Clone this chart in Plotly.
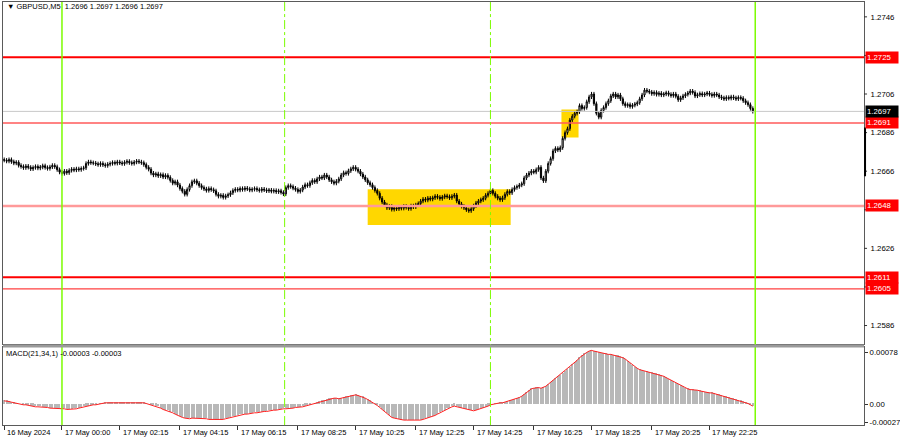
import plotly.graph_objects as go

# ---------------- data ----------------
close = [
    1.26717, 1.26712, 1.26720, 1.26709, 1.26702, 1.26706,
    1.26690, 1.26684, 1.26678, 1.26686, 1.26680, 1.26672, 1.26679, 1.26684, 1.26676, 1.26681, 1.26688, 1.26679, 1.26674, 1.26682, 1.26690, 1.26683,
    1.26668, 1.26655, 1.26648, 1.26660, 1.26652, 1.26664, 1.26670,
    1.26666, 1.26672, 1.26668, 1.26674, 1.26677,
    1.26700, 1.26708,
    1.26704, 1.26702, 1.26698, 1.26694, 1.26700, 1.26693, 1.26689, 1.26696, 1.26700,
    1.26705, 1.26701, 1.26708, 1.26703, 1.26699, 1.26706, 1.26711, 1.26704, 1.26700, 1.26707, 1.26712, 1.26708, 1.26704,
    1.26694, 1.26680, 1.26670,
    1.26650, 1.26640, 1.26646, 1.26636, 1.26642, 1.26630, 1.26638, 1.26628,
    1.26612, 1.26598, 1.26605, 1.26588, 1.26570, 1.26556, 1.26540,
    1.26565, 1.26585, 1.26605, 1.26610,
    1.26598, 1.26585, 1.26575, 1.26568, 1.26560, 1.26570, 1.26564, 1.26558,
    1.26540, 1.26530, 1.26535, 1.26524, 1.26532, 1.26538,
    1.26548, 1.26560, 1.26566, 1.26562, 1.26570, 1.26565, 1.26572,
    1.26568, 1.26562, 1.26566, 1.26570, 1.26564, 1.26560, 1.26567, 1.26563, 1.26558, 1.26562, 1.26556, 1.26560, 1.26553, 1.26558, 1.26550, 1.26542,
    1.26575, 1.26585, 1.26580,
    1.26572, 1.26565, 1.26555, 1.26562,
    1.26578, 1.26590, 1.26585, 1.26600, 1.26612, 1.26605, 1.26620, 1.26630, 1.26625, 1.26640,
    1.26630, 1.26615, 1.26605, 1.26598, 1.26608, 1.26620,
    1.26640, 1.26652, 1.26648, 1.26662, 1.26672, 1.26680,
    1.26670, 1.26660, 1.26645, 1.26630, 1.26615, 1.26600, 1.26590, 1.26575, 1.26560, 1.26545,
    1.26520, 1.26500, 1.26485, 1.26470, 1.26478, 1.26462,
    1.26470, 1.26465, 1.26474, 1.26468, 1.26478, 1.26472, 1.26466, 1.26480, 1.26475, 1.26485, 1.26492,
    1.26505, 1.26515, 1.26510, 1.26520,
    1.26515, 1.26522, 1.26530, 1.26525, 1.26518, 1.26526, 1.26532, 1.26528, 1.26522, 1.26530, 1.26536,
    1.26505, 1.26490, 1.26478, 1.26470, 1.26460, 1.26455, 1.26465,
    1.26480, 1.26495, 1.26505, 1.26512, 1.26520, 1.26535, 1.26545, 1.26560,
    1.26545, 1.26530, 1.26520, 1.26512, 1.26522,
    1.26540, 1.26555, 1.26548,
    1.26565, 1.26575, 1.26580, 1.26588, 1.26595,
    1.26625, 1.26640, 1.26650, 1.26660, 1.26655, 1.26668, 1.26680,
    1.26625, 1.26610,
    1.26660, 1.26700, 1.26725,
    1.26765, 1.26778, 1.26770, 1.26782,
    1.26830, 1.26860, 1.26880,
    1.26925, 1.26945, 1.26960, 1.26968,
    1.27000, 1.26985,
    1.26990, 1.27020, 1.27045, 1.27060,
    1.27010, 1.26960, 1.26940,
    1.26975, 1.26990, 1.27010, 1.27025,
    1.27050, 1.27060, 1.27045, 1.27055, 1.27035,
    1.27010, 1.27000, 1.27005, 1.26995, 1.27002, 1.27008, 1.27015,
    1.27035, 1.27055, 1.27080, 1.27075,
    1.27070, 1.27062, 1.27068, 1.27058, 1.27064, 1.27055, 1.27060, 1.27066, 1.27058, 1.27052, 1.27060, 1.27048, 1.27030,
    1.27040, 1.27050, 1.27058, 1.27065, 1.27075, 1.27068,
    1.27050, 1.27056, 1.27062, 1.27055, 1.27060, 1.27065, 1.27058, 1.27052, 1.27060, 1.27055,
    1.27045, 1.27040, 1.27035, 1.27042, 1.27038, 1.27045, 1.27040, 1.27035, 1.27042, 1.27038,
    1.27025, 1.27015, 1.27005, 1.26985, 1.26970,
]
first_open = 1.26720
wick = 0.00011

# MACD(21,34,1) main values, in units of 0.00001
macd_pts = [
    5, 5, 4, 3, 2, 1, 0, 0, -1, -1, -2,
    -3, -3, -4, -4, -4, -5, -5, -5, -6, -6, -6, -7, -7, -7,
    -7, -8, -8, -8, -7, -7, -6,
    -5, -4, -3, -3, -2, -1, -1, 0,
    1, 1, 2, 2, 2, 2, 3, 3, 3, 3, 3, 3, 3, 3, 3, 3, 2, 2, 2,
    1, 0, -1, -2, -3, -4,
    -6, -8, -9, -10, -12, -13, -15, -17, -19, -20, -21,
    -22, -22, -21, -21, -21, -22, -22,
    -22, -22, -23, -23, -23, -24, -24, -24, -23,
    -22, -21, -20, -19, -18, -17, -16,
    -16, -15, -15, -14, -14, -13, -13, -12, -12, -11, -11, -10, -10, -9, -9, -8, -8, -7,
    -7, -7, -6, -6, -5, -5, -5,
    -4, -3, -2, -1, 0, 1, 2, 4,
    5, 6, 7, 8, 8, 9, 9,
    8, 9, 10, 11, 12, 13, 13,
    14,
    13, 12, 11, 9, 7, 5, 3, 1, -2, -5, -8, -11, -14, -17, -20,
    -21, -22, -23, -24, -24, -24, -24, -25, -25, -24, -24, -24,
    -23, -22, -21, -20, -19, -17, -15, -13, -11, -9, -7, -6,
    -4, -3, -4, -5,
    -6, -7, -8, -9, -10, -10,
    -9, -8, -7, -6, -5, -3, -1,
    0, 1, 1, 2, 2, 3, 4, 5, 6, 7, 8,
    10, 12, 15, 18, 21, 23,
    24, 25, 25, 24, 25, 27,
    30, 33, 36, 39, 42, 44, 47, 50,
    53, 56, 60, 63, 66, 70, 73, 76, 78, 80,
    81,
    80, 79, 78, 77, 76, 76, 75, 75, 74, 74, 73, 72,
    70, 68, 65, 62, 59, 56, 54, 52,
    51, 50, 49, 48, 48, 47, 46, 45, 44,
    42, 40, 38, 36, 34, 32, 30, 28, 26, 24,
    23, 22, 22, 21, 21, 20, 19, 18, 18, 17, 17,
    16, 15, 14, 13, 12, 11, 10, 9, 8, 7, 6, 5,
    4, 3, 1, -1, -3,
]

tick_idx = [0, 24, 48, 73, 97, 122, 146, 171, 195, 220, 244, 269, 293]
tick_text = ["16 May 2024", "17 May 00:00", "17 May 02:15", "17 May 04:15", "17 May 06:15",
             "17 May 08:25", "17 May 10:25", "17 May 12:25", "17 May 14:25", "17 May 16:25",
             "17 May 18:25", "17 May 20:25", "17 May 22:25"]

price_ticks = [1.2586, 1.2626, 1.2666, 1.2686, 1.2706, 1.2746]
price_tick_marks = [1.2586, 1.2606, 1.2626, 1.2646, 1.2666, 1.2686, 1.2706, 1.2726, 1.2746]
levels = [1.2725, 1.2691, 1.2648, 1.2611, 1.2605]
level_colors = ["#ff0000", "#ff5a5a", "#ff9a9a", "#ff0000", "#ff4040"]
level_widths = [2, 1.5, 2.5, 2, 1.2]
current_price = 1.2697

day_lines = [24, 312]          # day separators (bar index)
session_lines = [116.5, 202]   # dash-dot session lines
boxes = [(151.0, 210.4, 1.26381, 1.26567), (231.5, 238.6, 1.26835, 1.26980)]

macd_ticks = [-0.00027, 0.0, 0.00078]
macd_tick_text = ["-0.00027", "0.00", "0.00078"]

# ---------------- build ----------------
n = len(close)
idx = list(range(n))
opens = [first_open] + close[:-1]
highs = [max(o, c) + wick for o, c in zip(opens, close)]
lows = [min(o, c) - wick for o, c in zip(opens, close)]
macd = [v * 1e-5 for v in macd_pts]

FONT = "Liberation Sans"
FS = 7.8
W, H = 900, 441
xd = [3 / W, 865 / W]
main_dom = [1 - 346 / H, 1 - 2 / H]
macd_dom = [1 - 427 / H, 1 - 349 / H]
xrange = [-0.5, 357.2]

fig = go.Figure()
fig.add_trace(go.Candlestick(
    x=idx, open=opens, high=highs, low=lows, close=close,
    increasing=dict(line=dict(color="#000000", width=1), fillcolor="#ffffff"),
    decreasing=dict(line=dict(color="#000000", width=1), fillcolor="#000000"),
    whiskerwidth=0, xaxis="x", yaxis="y", showlegend=False, hoverinfo="skip"))
fig.add_trace(go.Bar(x=idx, y=macd, marker=dict(color="#b8b8b8", line=dict(width=0)),
                     width=0.5, xaxis="x2", yaxis="y2", showlegend=False, hoverinfo="skip"))
fig.add_trace(go.Scatter(x=idx, y=macd, mode="lines", line=dict(color="#ff2020", width=1),
                         xaxis="x2", yaxis="y2", showlegend=False, hoverinfo="skip"))

shapes = []
for (x0, x1, y0, y1) in boxes:
    shapes.append(dict(type="rect", xref="x", yref="y", x0=x0, x1=x1, y0=y0, y1=y1,
                       fillcolor="#ffd700", line=dict(width=0), layer="below"))
shapes.append(dict(type="line", xref="paper", yref="y", x0=xd[0], x1=xd[1],
                   y0=current_price, y1=current_price, line=dict(color="#c8c8c8", width=1)))
for lv, col, lw in zip(levels, level_colors, level_widths):
    shapes.append(dict(type="line", xref="paper", yref="y", x0=xd[0], x1=xd[1],
                       y0=lv, y1=lv, line=dict(color=col, width=lw)))
for d in day_lines:
    shapes.append(dict(type="line", xref="x", yref="paper", x0=d, x1=d,
                       y0=macd_dom[0], y1=main_dom[1], line=dict(color="#7cfc00", width=1.5)))
for s in session_lines:
    shapes.append(dict(type="line", xref="x", yref="paper", x0=s, x1=s,
                       y0=macd_dom[0], y1=main_dom[1], line=dict(color="#7cfc00", width=1, dash="dashdot")))
# separator between panels
shapes.append(dict(type="rect", xref="paper", yref="paper", x0=xd[0], x1=xd[1],
                   y0=macd_dom[1], y1=main_dom[0], fillcolor="#9a9a9a", line=dict(width=0)))
# price-scale tick marks (labels partly hidden under level boxes)
for pt in price_tick_marks:
    shapes.append(dict(type="line", xref="paper", yref="y", x0=865 / W, x1=868 / W,
                       y0=pt, y1=pt, line=dict(color="#333333", width=1)))
# black bar on price scale
shapes.append(dict(type="line", xref="paper", yref="y", x0=866 / W, x1=866 / W,
                   y0=1.26634, y1=1.26887, line=dict(color="#000000", width=2)))

ann = []
for lv in levels:
    ann.append(dict(xref="paper", yref="y", x=866 / W, y=lv, xanchor="left", yanchor="middle",
                    text="%.4f" % lv, showarrow=False, bgcolor="#ff0000", width=30, align="left",
                    font=dict(family=FONT, size=FS, color="#ffffff"), borderpad=1))
ann.append(dict(xref="paper", yref="y", x=866 / W, y=current_price, xanchor="left", yanchor="middle",
                text="%.4f" % current_price, showarrow=False, bgcolor="#000000", width=30, align="left",
                font=dict(family=FONT, size=FS, color="#ffffff"), borderpad=1))
for ti, tt in zip(tick_idx, tick_text):
    ann.append(dict(xref="x2", yref="paper", x=ti, y=1 - 434 / H, xanchor="left", yanchor="middle",
                    xshift=1, text=tt, showarrow=False,
                    font=dict(family=FONT, size=7.5, color="#000000")))
ann.append(dict(xref="paper", yref="paper", x=5 / W, y=1 - 7 / H, xanchor="left", yanchor="middle",
                text="\u25bc GBPUSD,M5  1.2696 1.2697 1.2696 1.2697", showarrow=False,
                font=dict(family=FONT, size=7.5, color="#000000")))
ann.append(dict(xref="paper", yref="paper", x=4 / W, y=1 - 355 / H, xanchor="left", yanchor="middle",
                text="MACD(21,34,1) -0.00003 -0.00003", showarrow=False,
                font=dict(family=FONT, size=7.5, color="#000000")))

axis_common = dict(showgrid=False, zeroline=False, showline=True, mirror=True,
                   linecolor="#5a5a5a", linewidth=1)
fig.update_layout(
    width=W, height=H, margin=dict(l=0, r=0, t=0, b=0),
    paper_bgcolor="#ffffff", plot_bgcolor="#ffffff",
    xaxis=dict(domain=xd, range=xrange, showticklabels=False, rangeslider=dict(visible=False),
               anchor="y", **axis_common),
    yaxis=dict(domain=main_dom, range=[1.25762, 1.27537], side="right", anchor="x",
               tickvals=price_ticks, ticktext=["%.4f" % v for v in price_ticks],
               ticks="", ticklabelstandoff=4,
               tickfont=dict(family=FONT, size=FS, color="#000000"), **axis_common),
    xaxis2=dict(domain=xd, range=xrange, anchor="y2", tickvals=tick_idx, ticks="outside",
                ticklen=4, tickcolor="#333333", showticklabels=False, **axis_common),
    yaxis2=dict(domain=macd_dom, range=[-0.000315, 0.000855], side="right", anchor="x2",
                tickvals=macd_ticks, ticktext=macd_tick_text, ticks="outside", ticklen=3,
                tickcolor="#333333", tickfont=dict(family=FONT, size=FS, color="#000000"),
                **axis_common),
    shapes=shapes, annotations=ann, bargap=0,
)
fig.write_html("out.html", config={"displayModeBar": False},
               post_script="document.body.style.margin='0px';document.body.style.padding='0px';")
